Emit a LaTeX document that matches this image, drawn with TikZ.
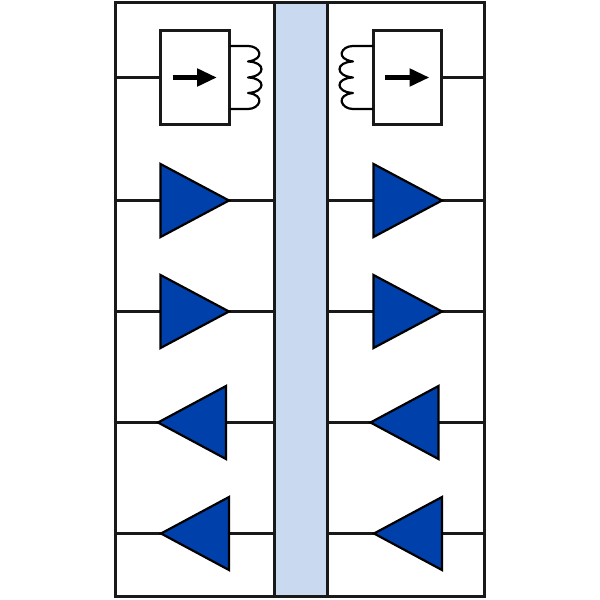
\documentclass[tikz,border=0pt]{standalone}
\usetikzlibrary{arrows.meta}
\definecolor{ampblue}{RGB}{0,64,170}
\definecolor{busblue}{RGB}{201,217,239}
\tikzset{
  x=1pt,y=-1pt,
  wire/.style={draw=black!90,line width=2.2pt},
  ctlbox/.style={draw=black!90,line width=2.2pt,fill=white,rectangle,inner sep=0,minimum width=#1,minimum height=94pt},
  amp/.style={draw=black,line width=2.2pt,fill=ampblue,line join=miter},
  coil/.style={draw=black,line width=2.2pt,line cap=round,line join=round},
  flow/.style={draw=black,line width=5.5pt,-{Triangle[length=20pt,width=17pt]}},
}
\newcommand{\ampshape}[5]{% name, tip x, base x, y, half-height
  \coordinate (#1tip) at (#2,#4);
  \coordinate (#1base) at (#3,#4);
  \coordinate (#1a) at (#3,#4-#5);
  \coordinate (#1b) at (#3,#4+#5);
  \draw[amp] (#1tip) -- (#1a) -- (#1b) -- cycle;
}
\begin{document}
\begin{tikzpicture}
\useasboundingbox (0,0) rectangle (600,600);
\fill[white] (0,0) rectangle (600,600);
% frame and bus
\coordinate (fl) at (115.5,2.5);
\coordinate (fr) at (484.5,596.5);
\draw[wire,fill=white] (fl) rectangle (fr);
\node[draw=black!90,line width=2.2pt,fill=busblue,rectangle,inner sep=0,minimum width=53pt,minimum height=594pt] (bus) at (301,299.5) {};
% edge anchors on frame and bus
\foreach \n/\y in {1/77.5,2/200.5,3/311.5,4/422.5,5/533.5}{
  \coordinate (L\n) at (115.5,\y);
  \coordinate (B\n) at (274.5,\y);
  \coordinate (C\n) at (327.5,\y);
  \coordinate (R\n) at (484.5,\y);
}
% wires, left
\draw[wire] (L2) -- (B2);
\draw[wire] (L3) -- (B3);
\draw[wire] (L4) -- (B4);
\draw[wire] (L5) -- (B5);
% wires, right
\draw[wire] (C2) -- (R2);
\draw[wire] (C3) -- (R3);
\draw[wire] (C4) -- (R4);
\draw[wire] (C5) -- (R5);
% control boxes
\node[ctlbox=69pt] (boxl) at (195,77.5) {};
\node[ctlbox=68pt] (boxr) at (407.5,77.5) {};
\draw[wire] (L1) -- (boxl.west);
\draw[wire] (boxr.east) -- (R1);
% arrows
\coordinate (al) at (172.7,77.5); \coordinate (ar) at (217,77.5);
\draw[flow] (al) -- (ar);
\coordinate (bl) at (385.3,77.5); \coordinate (br) at (429.5,77.5);
\draw[flow] (bl) -- (br);
% coils
\coordinate (cl1) at (boxl.east |- 0,46);
\coordinate (cl2) at (boxl.east |- 0,109);
\draw[coil] (cl1) -- (248,46)
  .. controls (260,46) and (266,59) .. (248,61.5)
  .. controls (266,62) and (266,76) .. (248,77.5)
  .. controls (266,78) and (266,92) .. (248,93)
  .. controls (266,95) and (260,109) .. (248,109) -- (cl2);
\coordinate (cr1) at (boxr.west |- 0,46);
\coordinate (cr2) at (boxr.west |- 0,109);
\draw[coil] (cr1) -- (353,46)
  .. controls (341,46) and (335,59) .. (353,61.5)
  .. controls (335,62) and (335,76) .. (353,77.5)
  .. controls (335,78) and (335,92) .. (353,93)
  .. controls (335,95) and (341,109) .. (353,109) -- (cr2);
% amplifiers
\ampshape{a2}{229}{160.5}{200.5}{36.5}
\ampshape{a3}{229}{160.5}{311.5}{36.5}
\ampshape{a4}{158}{226}{422.5}{36.5}
\ampshape{a5}{161}{229}{533.5}{36.5}
\ampshape{b2}{442}{373.5}{200.5}{36.5}
\ampshape{b3}{442}{373.5}{311.5}{36.5}
\ampshape{b4}{370.5}{438.5}{422.5}{36.5}
\ampshape{b5}{374}{442}{533.5}{36.5}
\end{tikzpicture}
\end{document}
